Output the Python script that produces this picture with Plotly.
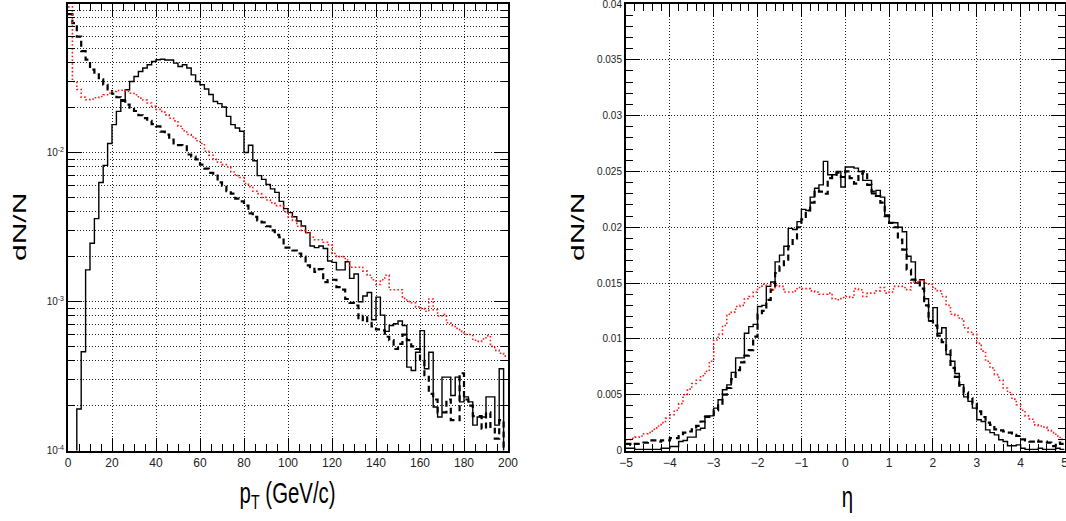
import plotly.graph_objects as go

# ---- transverse momentum spectra (2 GeV/c bins, 0-200 GeV/c) ----
pt_edges = list(range(0, 202, 2))

pt_solid = [1e-6, 1e-6, 1.9e-4, 4.6e-4, 1.63e-3, 2.46e-3, 3.6e-3, 6.3e-3, 8.2e-3, 1.15e-2,
            1.54e-2, 1.89e-2, 2.26e-2, 2.64e-2, 3.0e-2, 3.24e-2, 3.5e-2, 3.69e-2, 3.88e-2, 4.08e-2,
            4.2e-2, 4.23e-2, 4.18e-2, 4.18e-2, 3.98e-2, 3.78e-2, 3.88e-2, 3.69e-2, 3.32e-2, 3.0e-2,
            2.85e-2, 2.67e-2, 2.45e-2, 2.2e-2, 2.13e-2, 2.02e-2, 1.75e-2, 1.54e-2, 1.46e-2, 1.39e-2,
            1.0e-2, 1.12e-2, 8.8e-3, 7.0e-3, 6.6e-3, 6.1e-3, 5.7e-3, 5.4e-3, 4.7e-3, 4.2e-3,
            3.95e-3, 3.71e-3, 3.47e-3, 3.21e-3, 2.9e-3, 2.36e-3, 2.3e-3, 2.36e-3, 2.27e-3, 1.87e-3,
            1.83e-3, 1.63e-3, 1.63e-3, 1.85e-3, 1.43e-3, 1.53e-3, 9.97e-4, 1.09e-3, 1.15e-3, 7.55e-4,
            1.07e-3, 8.1e-4, 6.3e-4, 6.9e-4, 7.1e-4, 7.4e-4, 6.9e-4, 3.63e-4, 3.44e-4, 4.57e-4,
            6.38e-4, 3.54e-4, 4.57e-4, 1.96e-4, 1.68e-4, 3.11e-4, 3.11e-4, 2.34e-4, 3.11e-4, 2.12e-4,
            2.29e-4, 2.12e-4, 1.48e-4, 1.68e-4, 1.68e-4, 2.29e-4, 2.29e-4, 1.48e-4, 3.54e-4, 1e-6]

pt_dashed = [0.085, 0.074, 0.060, 0.048, 0.042, 0.036, 0.0335, 0.031, 0.0285, 0.0265,
             0.0248, 0.0235, 0.0222, 0.021, 0.0200, 0.0190, 0.0178, 0.0170, 0.0163, 0.0155,
             0.0150, 0.0138, 0.0132, 0.0122, 0.0115, 0.0112, 0.0110, 0.0097, 0.0094, 0.0090,
             0.0083, 0.0078, 0.0073, 0.0070, 0.0063, 0.0060, 0.0055, 0.0053, 0.0049, 0.0047,
             0.0044, 0.0039, 0.0037, 0.0035, 0.0034, 0.0032, 0.0030, 0.0028, 0.0027, 0.0023,
             0.0023, 0.0022, 0.0021, 0.0020, 0.00175, 0.0017, 0.00158, 0.00165, 0.00135, 0.00139,
             0.0014, 0.00125, 0.00120, 0.00104, 0.00098, 0.00094, 0.00075, 0.00080, 0.00072, 0.00068,
             0.00065, 0.00064, 0.00058, 0.00055, 0.00048, 0.00052, 0.00060, 0.00055, 0.00050, 0.00048,
             0.00040, 0.00032, 0.00024, 0.00022, 0.00018, 0.00018, 0.00022, 0.00016, 0.00016, 0.00033,
             0.00022, 0.00020, 0.00017, 0.00017, 0.00014, 0.00018, 0.00014, 0.00012, 0.00016, 1e-6]

pt_dotted = [0.095, 0.030, 0.0265, 0.0235, 0.0226, 0.0228, 0.0233, 0.0238, 0.0244, 0.0250,
             0.0257, 0.0261, 0.0262, 0.0257, 0.0250, 0.0244, 0.0232, 0.0225, 0.0215, 0.0204,
             0.0195, 0.0189, 0.0179, 0.0170, 0.0163, 0.0150, 0.0140, 0.0132, 0.0127, 0.0120,
             0.0115, 0.0102, 0.0096, 0.0090, 0.0086, 0.0083, 0.0080, 0.0074, 0.0070, 0.0068,
             0.0062, 0.0059, 0.0055, 0.0053, 0.0050, 0.0048, 0.0046, 0.0044, 0.0044, 0.0040,
             0.0037, 0.0035, 0.0032, 0.0030, 0.0029, 0.0027, 0.0026, 0.0026, 0.0025, 0.0024,
             0.0021, 0.0020, 0.0020, 0.0019, 0.0017, 0.0017, 0.0017, 0.0016, 0.0015, 0.0014,
             0.0013, 0.0014, 0.0015, 0.0012, 0.0012, 0.0012, 0.00105, 0.0010, 0.00098, 0.00092,
             0.0009, 0.00086, 0.00104, 0.00088, 0.0008, 0.00082, 0.00072, 0.00069, 0.00066, 0.00063,
             0.0006, 0.0006, 0.00055, 0.00054, 0.00056, 0.00059, 0.0005, 0.00047, 0.00045, 0.00043]

# ---- pseudorapidity distributions (0.1 bins, -5 to 5) ----
eta_edges = [round(-5 + 0.1 * i, 1) for i in range(101)]

eta_solid = [0.0002, 0.0002, 0.0001, 0.0001, 0.0001, 0.0001, 0.0001, 0.0001, 0.0002, 0.0002,
             0.00036, 0.00036, 0.0008, 0.0009, 0.0012, 0.0012, 0.00185, 0.0020, 0.0031, 0.0031,
             0.0038, 0.00454, 0.00544, 0.00588, 0.0070, 0.0083, 0.0083, 0.0105, 0.0111, 0.0113,
             0.0129, 0.0130, 0.0147, 0.0151, 0.0169, 0.0175, 0.0183, 0.0199, 0.0198, 0.0205,
             0.0216, 0.0215, 0.0227, 0.0235, 0.0238, 0.0259, 0.0247, 0.0247, 0.0250, 0.0236,
             0.0254, 0.0254, 0.0253, 0.0250, 0.0242, 0.0242, 0.0230, 0.0233, 0.0227, 0.0211,
             0.0204, 0.0204, 0.0200, 0.0196, 0.0174, 0.0169, 0.0150, 0.0153, 0.0136, 0.0116,
             0.0128, 0.0105, 0.0110, 0.0086, 0.0080, 0.0069, 0.0059, 0.0048, 0.0044, 0.0038,
             0.00275, 0.0026, 0.00185, 0.0016, 0.0014, 0.00096, 0.0008, 0.00042, 0.00042, 0.0005,
             0.0002, 0.0001, 0.0001, 0.0001, 0.0002, 0.0001, 0.0001, 0.0001, 0.0002, 0.0001]

eta_dashed = [0.0006, 0.0005, 0.0006, 0.0006, 0.0007, 0.0009, 0.0009, 0.0008, 0.0009, 0.0009,
              0.0011, 0.0011, 0.0013, 0.0016, 0.0017, 0.0019, 0.0022, 0.0026, 0.0030, 0.0032,
              0.0036, 0.0042, 0.0050, 0.0056, 0.0064, 0.0072, 0.0079, 0.0085, 0.0090, 0.0102,
              0.0122, 0.0125, 0.0135, 0.0144, 0.0159, 0.0165, 0.0171, 0.0183, 0.0190, 0.0200,
              0.0207, 0.0215, 0.0222, 0.0233, 0.0232, 0.0230, 0.0244, 0.0247, 0.0249, 0.0245,
              0.0250, 0.0244, 0.0239, 0.0248, 0.0250, 0.0238, 0.0232, 0.0228, 0.0222, 0.0210,
              0.0204, 0.0200, 0.0189, 0.0180, 0.0162, 0.0153, 0.0151, 0.0145, 0.0130, 0.0116,
              0.0112, 0.0103, 0.0097, 0.0090, 0.0074, 0.0066, 0.0058, 0.0052, 0.0047, 0.0042,
              0.0035, 0.0030, 0.0025, 0.0023, 0.0019, 0.0018, 0.0017, 0.0016, 0.0014, 0.0013,
              0.0010, 0.0009, 0.0008, 0.0009, 0.0008, 0.0008, 0.0007, 0.0004, 0.0007, 0.0006]

eta_dotted = [0.00096, 0.0011, 0.0012, 0.0013, 0.0015, 0.0016, 0.0019, 0.0022, 0.0025, 0.0029,
              0.0032, 0.0036, 0.0042, 0.0050, 0.0055, 0.0060, 0.0063, 0.0067, 0.0071, 0.0080,
              0.0099, 0.0104, 0.0112, 0.0122, 0.0124, 0.0129, 0.0130, 0.0136, 0.0138, 0.0142,
              0.0146, 0.0149, 0.0148, 0.0144, 0.0148, 0.0147, 0.0142, 0.0142, 0.0143, 0.0146,
              0.0145, 0.0145, 0.0143, 0.0142, 0.0140, 0.0140, 0.0141, 0.0136, 0.0135, 0.0137,
              0.0138, 0.0137, 0.0145, 0.0144, 0.0138, 0.0141, 0.0141, 0.0143, 0.0146, 0.0141,
              0.0142, 0.0147, 0.0147, 0.0146, 0.0144, 0.0151, 0.0151, 0.0152, 0.0150, 0.0149,
              0.0145, 0.0143, 0.0138, 0.0130, 0.0122, 0.0121, 0.0118, 0.0110, 0.0106, 0.0104,
              0.0096, 0.0089, 0.0080, 0.0074, 0.0068, 0.0063, 0.0056, 0.0052, 0.0046, 0.0041,
              0.0036, 0.0031, 0.0028, 0.0023, 0.0022, 0.0021, 0.0018, 0.0016, 0.0013, 0.0010]

# axis tick labels
pt_ticks = list(range(0, 201, 20))
log_ticks = [1e-4, 1e-3, 1e-2]
log_ticktext = ["10<sup>-4</sup>", "10<sup>-3</sup>", "10<sup>-2</sup>"]
log_minor = [m * 10 ** e for e in (-4, -3, -2) for m in range(2, 10)]
eta_ticks = list(range(-5, 6))
lin_ticks = [0, 0.005, 0.01, 0.015, 0.02, 0.025, 0.03, 0.035, 0.04]
lin_ticktext = ["0", "0.005", "0.01", "0.015", "0.02", "0.025", "0.03", "0.035", "0.04"]

FONT = "Liberation Sans, Arial, Helvetica, sans-serif"
GRID = dict(showgrid=True, gridcolor="#222222", gridwidth=1, griddash="1px,2px")


def step(edges, vals):
    """Histogram outline: one horizontal segment per bin."""
    return list(edges), list(vals) + [vals[-1]]


fig = go.Figure()

line_styles = [
    dict(color="black", width=1.4),
    dict(color="black", width=2.2, dash="6px,4px"),
    dict(color="#ff1a1a", width=1.6, dash="1.6px,2.2px"),
]

for vals, line in zip([pt_solid, pt_dashed, pt_dotted], line_styles):
    x, y = step(pt_edges, vals)
    fig.add_trace(go.Scatter(x=x, y=y, mode="lines", line=dict(shape="hv", **line),
                             xaxis="x", yaxis="y", showlegend=False, hoverinfo="skip"))

for vals, line in zip([eta_solid, eta_dashed, eta_dotted], line_styles):
    x, y = step(eta_edges, vals)
    fig.add_trace(go.Scatter(x=x, y=y, mode="lines", line=dict(shape="hv", **line),
                             xaxis="x2", yaxis="y2", showlegend=False, hoverinfo="skip"))

W, H = 1066, 521
left_dom = [68 / W, 508 / W]
right_dom = [626 / W, 1064.5 / W]
y_dom = [1 - 450.5 / H, 1 - 4 / H]

axis_common = dict(showline=True, linecolor="black", linewidth=2, mirror="ticks",
                   ticks="inside", tickcolor="black", tickwidth=1, zeroline=False,
                   automargin=False, ticklabeloverflow="allow",
                   tickfont=dict(family=FONT, size=12, color="#222222"), **GRID)
small_font = dict(family=FONT, size=10, color="#222222")

fig.update_layout(
    width=W, height=H, margin=dict(l=0, r=0, t=0, b=0, autoexpand=False),
    paper_bgcolor="white", plot_bgcolor="white",
    xaxis=dict(domain=left_dom, anchor="y", range=[0, 200], tickvals=pt_ticks, ticklen=13,
               ticklabelstandoff=0,
               minor=dict(dtick=5, tick0=0, ticks="inside", ticklen=7, tickcolor="black", showgrid=False),
               **axis_common),
    yaxis=dict(domain=y_dom, anchor="x", type="log", range=[-4, -1.003], tickvals=log_ticks,
               ticktext=log_ticktext, ticklen=14,
               minor=dict(tickvals=log_minor, ticks="inside", ticklen=7, tickcolor="black",
                          showgrid=True, gridcolor="#222222", gridwidth=1, griddash="1px,2px"),
               **{**axis_common, "tickfont": small_font}),
    xaxis2=dict(domain=right_dom, anchor="y2", range=[-5, 5], tickvals=eta_ticks, ticklen=13,
                ticklabelstandoff=0,
                minor=dict(dtick=0.2, tick0=0, ticks="inside", ticklen=7, tickcolor="black", showgrid=False),
                **axis_common),
    yaxis2=dict(domain=y_dom, anchor="x2", range=[0, 0.04], tickvals=lin_ticks,
                ticktext=lin_ticktext, ticklen=14,
                minor=dict(dtick=0.001, tick0=0, ticks="inside", ticklen=7, tickcolor="black", showgrid=False),
                **{**axis_common, "tickfont": small_font}),
)

# axis titles, positioned in pixels from the top-left corner
titles = [
    ("dN/N", 19, 227, -90),
    ("p<sub>T</sub> (GeV/c)", 287, 494, 0),
    ("dN/N", 577, 227, -90),
    ("η", 847, 496, 0),
]
for text, px, py, angle in titles:
    fig.add_annotation(text=text, x=px / W, y=1 - py / H, xref="paper", yref="paper",
                       showarrow=False, textangle=angle, xanchor="center", yanchor="middle",
                       font=dict(family=FONT, size=30, color="black"))

# the titles use a condensed rendering of the font: squeeze the glyphs across their width
squeeze_js = """
var gd = document.getElementById('{plot_id}');
function squeezeTitles() {
  var groups = gd.querySelectorAll('g.annotation');
  groups.forEach(function (g) {
    var idx = parseInt(g.getAttribute('data-index'));
    var ann = gd._fullLayout.annotations[idx];
    var t = g.querySelector('text.annotation-text');
    if (!t || !ann) return;
    t.style.transformBox = 'fill-box';
    t.style.transformOrigin = 'center';
    t.style.transform = (ann.textangle === -90) ? 'scale(1, 0.62)' : 'scale(0.68, 1)';
  });
}
squeezeTitles();
gd.on('plotly_afterplot', squeezeTitles);
"""

fig.write_html("out.html", post_script=squeeze_js)
